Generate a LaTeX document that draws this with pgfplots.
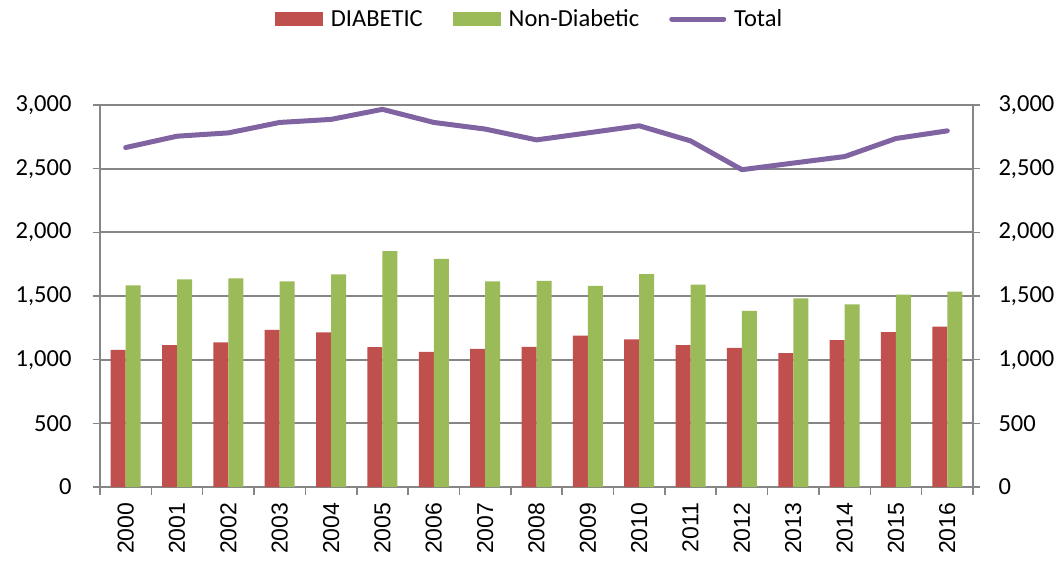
\documentclass[border=0pt]{standalone}
\usepackage{pgfplots}
\pgfplotsset{compat=1.18}
\usepackage{pgfplotstable}
\usepackage{fontspec}
\setmainfont{Carlito}
\newfontfamily\xfont{Liberation Sans}
\definecolor{cRed}{HTML}{C0504D}
\definecolor{cGreen}{HTML}{9BBB59}
\definecolor{cPurple}{HTML}{8064A2}
\definecolor{cGrid}{HTML}{868686}
\pgfplotstableread{
x D N T
0 1077 1583 2666
1 1114 1630 2755
2 1135 1638 2781
3 1233 1614 2863
4 1214 1670 2887
5 1098 1852 2966
6 1061 1791 2863
7 1085 1614 2811
8 1100 1619 2726
9 1188 1580 2781
10 1159 1672 2837
11 1114 1590 2718
12 1093 1384 2492
13 1051 1482 2544
14 1154 1434 2595
15 1217 1511 2737
16 1260 1535 2797
}\datatable
\begin{document}
\begin{tikzpicture}
\useasboundingbox (-100pt,-73pt) rectangle (963pt,487pt);
\begin{axis}[
  at={(0pt,0pt)}, anchor=south west,
  scale only axis, width=873pt, height=382pt,
  xmin=-0.5, xmax=16.5, ymin=0, ymax=3000,
  ytick={0,500,...,3000},
  ytick pos=left,
  xtick pos=bottom,
  xtick={0,...,16},
  xticklabels={2000,2001,2002,2003,2004,2005,2006,2007,2008,2009,2010,2011,2012,2013,2014,2015,2016},
  minor xtick={-0.5,0.5,...,16.5},
  major x tick style={draw=none},
  minor x tick style={draw=cGrid, line width=1.5pt},
  minor tick length=8pt,
  major tick length=7pt,
  tick align=outside,
  tick style={draw=cGrid, line width=1.5pt},
  axis line style={draw=cGrid, line width=1.5pt},
  ymajorgrids, grid style={draw=cGrid, line width=1.8pt},
  yticklabel style={font=\fontsize{24.5}{26}\selectfont},
  yticklabel shift=18pt,
  xticklabel shift=8.5pt,
  xticklabel style={font=\xfont\fontsize{23}{25}\selectfont, rotate=90, anchor=east, inner sep=0pt},
  /pgf/number format/assume math mode=true,
  /pgf/number format/1000 sep={,},
  ybar=0pt, bar width=15pt,
  legend columns=3,
  legend style={draw=none, fill=none, at={(0.492,1.225)}, anchor=center,
    font=\fontsize{24.5}{26}\selectfont,
    /tikz/every odd column/.append style={column sep=6pt},
    /tikz/every even column/.append style={column sep=28pt}},
  legend cell align=left,
]
\addplot[draw=none, fill=cRed,
  legend image code/.code={\fill[cRed] (0pt,-7pt) rectangle (48pt,7pt);}]
  table[x=x,y=D] {\datatable};
\addlegendentry{DIABETIC}
\addplot[draw=none, fill=cGreen,
  legend image code/.code={\fill[cGreen] (0pt,-7pt) rectangle (48pt,7pt);}]
  table[x=x,y=N] {\datatable};
\addlegendentry{Non-Diabetic}
\addplot[sharp plot, draw=cPurple, line width=5pt, line cap=round, line join=round, mark=none,
  legend image code/.code={\draw[cPurple, line width=5pt, line cap=round] (0pt,0pt) -- (52pt,0pt);}]
  table[x=x,y=T] {\datatable};
\addlegendentry{Total}
\end{axis}
\begin{axis}[
  at={(0pt,0pt)}, anchor=south west,
  scale only axis, width=873pt, height=382pt,
  xmin=-0.5, xmax=16.5, ymin=0, ymax=3000,
  axis x line=none,
  axis y line*=right,
  ytick={0,500,...,3000},
  major tick length=7pt,
  tick align=outside,
  tick style={draw=cGrid, line width=1.5pt},
  axis line style={draw=cGrid, line width=1.5pt, -},
  yticklabel style={font=\fontsize{24.5}{26}\selectfont},
  yticklabel shift=15pt,
  /pgf/number format/assume math mode=true,
  /pgf/number format/1000 sep={,},
]
\addplot[draw=none] coordinates {(0,0)};
\end{axis}
\end{tikzpicture}
\end{document}
